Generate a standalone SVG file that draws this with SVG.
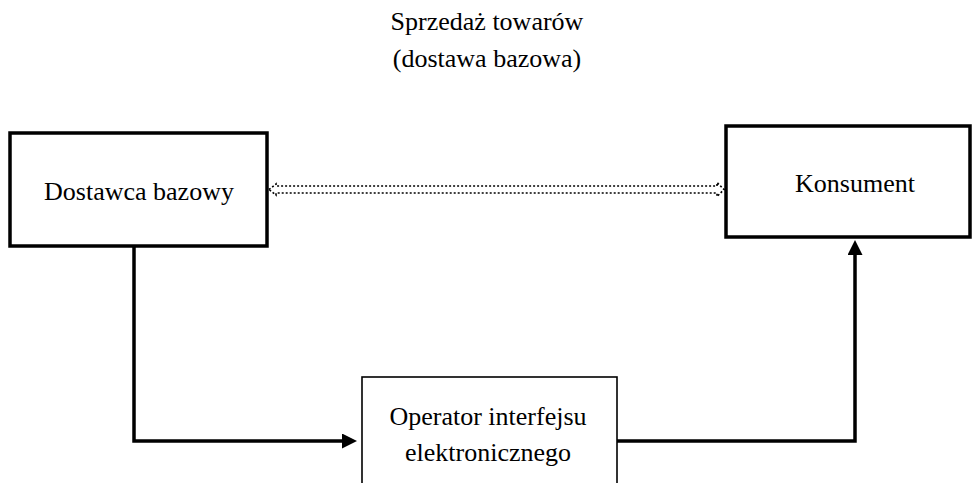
<svg xmlns="http://www.w3.org/2000/svg" width="972" height="483" viewBox="0 0 972 483">
<style>
text{font-family:'Liberation Serif','Times New Roman','DejaVu Serif',serif;font-size:26px;fill:#000;text-anchor:middle}
.thick{fill:#fff;stroke:#000;stroke-width:3.5}
.thin{fill:#fff;stroke:#000;stroke-width:1.6}
.conn{fill:none;stroke:#000;stroke-width:3.5}
.dotted{fill:none;stroke:#000;stroke-width:1.6;stroke-dasharray:2 2}
</style>
<defs>
<marker id="ah" viewBox="0 0 15 15" markerWidth="15" markerHeight="15" markerUnits="userSpaceOnUse" refX="5" refY="7.5" orient="auto">
<path d="M0,0 L15,7.5 L0,15 Z" fill="#000"/>
</marker>
</defs>
<g id="title">
<text x="487" y="30" font-family="Liberation Serif, serif">Sprzedaż towarów</text>
<text x="487" y="67" font-family="Liberation Serif, serif">(dostawa bazowa)</text>
</g>
<g id="dostawca">
<rect class="thick" x="10" y="133" width="257" height="113"/>
<text x="139" y="200" font-family="Liberation Serif, serif">Dostawca bazowy</text>
</g>
<g id="konsument">
<rect class="thick" x="726" y="126" width="244" height="111"/>
<text x="855" y="192" font-family="Liberation Serif, serif">Konsument</text>
</g>
<g id="operator">
<rect class="thin" x="362" y="377" width="255" height="130"/>
<text x="488" y="425" font-family="Liberation Serif, serif">Operator interfejsu</text>
<text x="488" y="461" font-family="Liberation Serif, serif">elektronicznego</text>
</g>
<g id="connectors">
<path class="dotted" d="M269,189.5 L276,184 L276,186 L717,186 L717,182.5 L724,189.5 L717,196.5 L717,193 L276,193 L276,195 Z"/>
<path class="conn" d="M134,246 L134,441 L347,441" marker-end="url(#ah)"/>
<path class="conn" d="M617,441 L855,441 L855,250" marker-end="url(#ah)"/>
</g>
</svg>
